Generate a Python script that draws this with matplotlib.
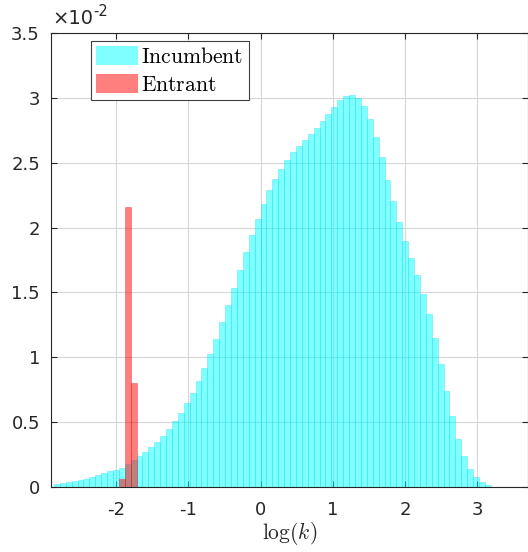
import numpy as np
import matplotlib
matplotlib.use("Agg")
import matplotlib.pyplot as plt
from matplotlib.patches import Patch

# Shared histogram bins over log(k)
bin_lo, bin_hi, n_bins = -2.86, 3.185, 74
bin_edges = np.linspace(bin_lo, bin_hi, n_bins + 1)

# Incumbent density per bin (units of 1e-2)
incumbent = [
    0.022, 0.028, 0.035, 0.043, 0.053, 0.064, 0.078, 0.092, 0.108, 0.122,
    0.133, 0.148, 0.180, 0.206, 0.237, 0.272, 0.307, 0.348, 0.396, 0.444,
    0.505, 0.573, 0.644, 0.728, 0.821, 0.920, 1.028, 1.144, 1.270, 1.401,
    1.534, 1.671, 1.809, 1.939, 2.063, 2.185, 2.288, 2.378, 2.455, 2.524,
    2.579, 2.627, 2.673, 2.718, 2.766, 2.819, 2.874, 2.930, 2.980, 3.012,
    3.019, 3.001, 2.934, 2.834, 2.696, 2.541, 2.370, 2.203, 2.044, 1.900,
    1.766, 1.633, 1.491, 1.332, 1.149, 0.946, 0.738, 0.545, 0.373, 0.237,
    0.136, 0.075, 0.036, 0.013,
]

# Entrant density, occupying bins 11..13 (units of 1e-2)
entrant_bins = [11, 12, 13]
entrant = [0.059, 2.157, 0.804]

x_ticks = [-2, -1, 0, 1, 2, 3]
y_ticks = [0, 0.5, 1, 1.5, 2, 2.5, 3, 3.5]
y_ticklabels = ["0", "0.5", "1", "1.5", "2", "2.5", "3", "3.5"]

plt.rcParams["font.family"] = ["DejaVu Sans"]
plt.rcParams["mathtext.fontset"] = "cm"
plt.rcParams["axes.unicode_minus"] = False

W, H = 528, 552
fig = plt.figure(figsize=(W / 100, H / 100), dpi=100)
ax = fig.add_axes([51 / W, (H - 487) / H, (528 - 51) / W, (487 - 33) / H])

left = bin_edges[:-1]
widths = np.diff(bin_edges)
ax.bar(left, incumbent, width=widths, align="edge",
       facecolor=(0, 1, 1, 0.5), edgecolor=(0, 0.85, 0.95, 0.3),
       linewidth=0.7, zorder=2)

e_idx = np.array(entrant_bins)
ax.bar(bin_edges[e_idx], entrant, width=widths[e_idx], align="edge",
       facecolor=(1, 0, 0, 0.5), edgecolor=(0.9, 0, 0, 0.3),
       linewidth=0.7, zorder=3)

ax.set_xlim(-2.9, 3.7)
ax.set_ylim(0, 3.5)
ax.set_xticks(x_ticks)
ax.set_xticklabels([str(t) for t in x_ticks])
ax.set_yticks(y_ticks)
ax.set_yticklabels(y_ticklabels)

ax.grid(True, color="#d6d6d6", linewidth=0.8)
ax.set_axisbelow(True)

for side, sp in ax.spines.items():
    sp.set_color("#262626")
    sp.set_linewidth(0.8)
ax.tick_params(direction="in", length=4, width=0.8, color="#262626",
               labelsize=13, labelcolor="#262626",
               top=True, right=True)
ax.tick_params(axis="x", pad=10)
ax.tick_params(axis="y", pad=8)

ax.set_xlabel(r"$\log(k)$", fontsize=15.5, color="#262626", labelpad=1)

# Axis exponent
fig.text(52 / W, 1 - 19 / H, "\u00d710", fontsize=14, color="#262626",
         va="center", ha="left")
fig.text(93 / W, 1 - 11 / H, "-2", fontsize=10.5, color="#262626",
         va="center", ha="left")

handles = [
    Patch(facecolor=(0, 1, 1, 0.5), edgecolor="none"),
    Patch(facecolor=(1, 0, 0, 0.5), edgecolor="none"),
]
leg = ax.legend(handles, [r"$\mathrm{Incumbent}$", r"$\mathrm{Entrant}$"],
                loc="upper left",
                bbox_to_anchor=(90.7 / W, 1 - 40.7 / H),
                bbox_transform=fig.transFigure,
                borderaxespad=0, fontsize=15.5, frameon=True, fancybox=False,
                framealpha=1, edgecolor="#404040",
                handlelength=1.95, handleheight=1.0, handletextpad=0.15,
                borderpad=0.25, labelspacing=0.3)
leg.get_frame().set_linewidth(0.8)

fig.savefig("out.png", dpi=100)
